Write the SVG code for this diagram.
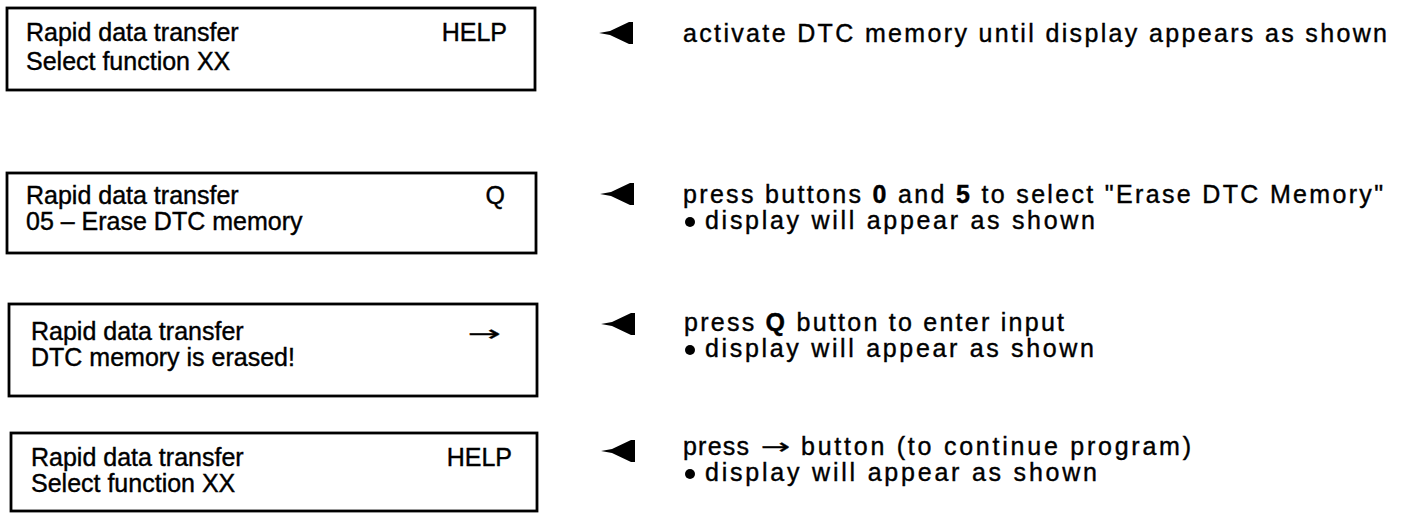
<svg xmlns="http://www.w3.org/2000/svg" width="1408" height="514" viewBox="0 0 1408 514">
<style>
.box{fill:#fff;stroke:#000;stroke-width:2.8}
.bt{font-family:"Liberation Sans",Arial,sans-serif;font-size:25px;fill:#000;stroke:#000;stroke-width:0.4}
.it{font-family:"Liberation Sans",Arial,sans-serif;font-size:25px;fill:#000;stroke:#000;stroke-width:0.4}
.ar{font-family:"DejaVu Sans","Liberation Sans",sans-serif;font-size:22px;fill:#000;stroke:#000;stroke-width:0.3}
.b{font-weight:bold}
.dot{fill:#000}
</style>
<defs>
<path id="ptr" d="M0,0 L11,-2 L30,-11 L34,-11 L34,11 L30,11 L11,2 Z" fill="#000"/>
</defs>
<rect width="1408" height="514" fill="#fff"/>
<g id="box1">
<rect class="box" x="7" y="8" width="528" height="82"/>
<text class="bt" x="26" y="41">Rapid data transfer</text>
<text class="bt" x="26" y="70">Select function XX</text>
<text class="bt" x="507" y="41" text-anchor="end">HELP</text>
</g>
<g id="box2">
<rect class="box" x="7" y="173" width="529" height="80"/>
<text class="bt" x="26" y="204">Rapid data transfer</text>
<text class="bt" x="26" y="230">05 – Erase DTC memory</text>
<text class="bt" x="505" y="204" text-anchor="end">Q</text>
</g>
<g id="box3">
<rect class="box" x="9" y="304" width="528" height="92"/>
<text class="bt" x="31" y="340">Rapid data transfer</text>
<text class="bt" x="31" y="366">DTC memory is erased!</text>
<text class="ar" transform="translate(468,341) scale(1.8,1)">→</text>
</g>
<g id="box4">
<rect class="box" x="11" y="433" width="526" height="78"/>
<text class="bt" x="31" y="466">Rapid data transfer</text>
<text class="bt" x="31" y="492">Select function XX</text>
<text class="bt" x="512" y="466" text-anchor="end">HELP</text>
</g>
<g id="connectors">
<use href="#ptr" x="599" y="33"/>
<use href="#ptr" x="600" y="194"/>
<use href="#ptr" x="601" y="324"/>
<use href="#ptr" x="601" y="451"/>
</g>
<g id="step1">
<text class="it" x="683" y="42" textLength="704" lengthAdjust="spacing">activate DTC memory until display appears as shown</text>
</g>
<g id="step2">
<text class="it" x="683" y="203" textLength="700" lengthAdjust="spacing">press buttons <tspan class="b">0</tspan> and <tspan class="b">5</tspan> to select "Erase DTC Memory"</text>
<circle class="dot" cx="690" cy="222" r="5"/>
<text class="it" x="705" y="229" textLength="390" lengthAdjust="spacing">display will appear as shown</text>
</g>
<g id="step3">
<text class="it" x="684" y="331" textLength="380" lengthAdjust="spacing">press <tspan class="b">Q</tspan> button to enter input</text>
<circle class="dot" cx="690" cy="350" r="5"/>
<text class="it" x="705" y="357" textLength="389" lengthAdjust="spacing">display will appear as shown</text>
</g>
<g id="step4">
<text class="it" x="683" y="455" textLength="66" lengthAdjust="spacing">press</text>
<text class="ar" transform="translate(761,454) scale(1.6,1)">→</text>
<text class="it" x="801" y="455" textLength="390" lengthAdjust="spacing">button (to continue program)</text>
<circle class="dot" cx="690" cy="474" r="5"/>
<text class="it" x="705" y="481" textLength="392" lengthAdjust="spacing">display will appear as shown</text>
</g>
</svg>
